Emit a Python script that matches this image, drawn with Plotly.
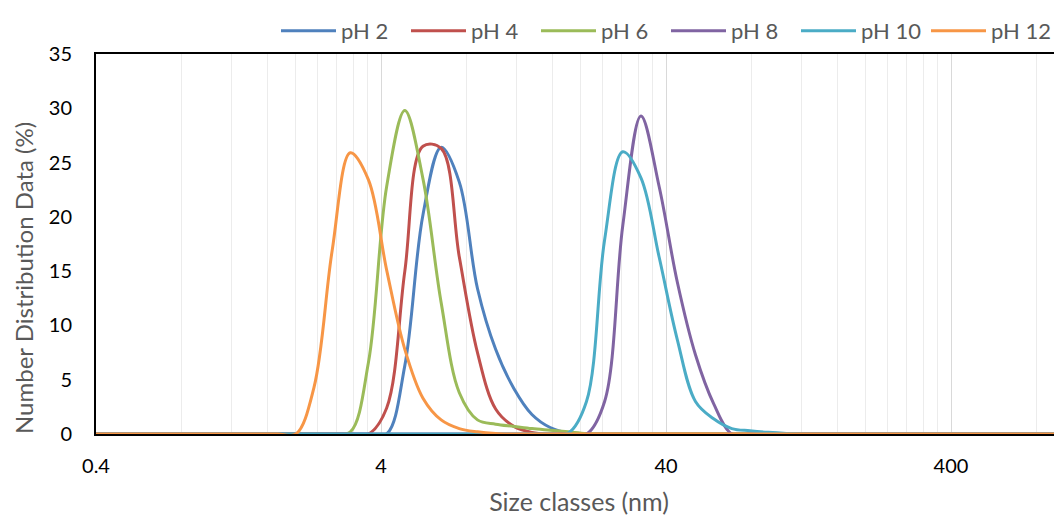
import math
import plotly.graph_objects as go

# Size classes (nm)
size_nm = [0.4, 0.4632, 0.5365, 0.6213, 0.7195, 0.8332, 0.9649, 1.117, 1.294, 1.499,
           1.736, 2.01, 2.328, 2.696, 3.122, 3.615, 4.187, 4.849, 5.615, 6.503,
           7.531, 8.721, 10.1, 11.7, 13.54, 15.69, 18.17, 21.04, 24.36, 28.21,
           32.67, 37.84, 43.82, 50.75, 58.77, 68.06, 78.82, 91.28, 105.7, 122.4,
           141.8, 164.2, 190.1, 220.2, 255.0, 295.3, 342.0, 396.1, 458.7, 531.2,
           615.1, 712.4, 825.0, 955.4, 1106]

ph2 = [0, 0, 0, 0, 0, 0, 0, 0, 0, 0,
       0, 0, 0, 0, 0, 0, 0, 6.3, 20.2, 26.4,
       23.2, 13.4, 7.8, 4.2, 1.8, 0.6, 0.1, 0, 0, 0,
       0, 0, 0, 0, 0, 0, 0, 0, 0, 0,
       0, 0, 0, 0, 0, 0, 0, 0, 0, 0,
       0, 0, 0, 0, 0]
ph4 = [0, 0, 0, 0, 0, 0, 0, 0, 0, 0,
       0, 0, 0, 0, 0, 0, 2.4, 15.0, 26.5, 26.3,
       16.3, 7.5, 2.3, 0.7, 0.15, 0, 0, 0, 0, 0,
       0, 0, 0, 0, 0, 0, 0, 0, 0, 0,
       0, 0, 0, 0, 0, 0, 0, 0, 0, 0,
       0, 0, 0, 0, 0]
ph6 = [0, 0, 0, 0, 0, 0, 0, 0, 0, 0,
       0, 0, 0, 0, 0.2, 6.6, 22.8, 29.8, 23.5, 12.1,
       3.8, 1.3, 0.9, 0.7, 0.5, 0.35, 0.2, 0.05, 0, 0,
       0, 0, 0, 0, 0, 0, 0, 0, 0, 0,
       0, 0, 0, 0, 0, 0, 0, 0, 0, 0,
       0, 0, 0, 0, 0]
ph8 = [0, 0, 0, 0, 0, 0, 0, 0, 0, 0,
       0, 0, 0, 0, 0, 0, 0, 0, 0, 0,
       0, 0, 0, 0, 0, 0, 0, 0, 3.0, 19.2,
       29.3, 22.8, 14.0, 7.3, 2.8, 0, 0, 0, 0, 0,
       0, 0, 0, 0, 0, 0, 0, 0, 0, 0,
       0, 0, 0, 0, 0]
ph10 = [0, 0, 0, 0, 0, 0, 0, 0, 0, 0,
        0, 0, 0, 0, 0, 0, 0, 0, 0, 0,
        0, 0, 0, 0, 0, 0, 0.1, 3.0, 17.9, 26.0,
        23.6, 16.3, 8.7, 3.0, 1.4, 0.5, 0.3, 0.15, 0.05, 0,
        0, 0, 0, 0, 0, 0, 0, 0, 0, 0,
        0, 0, 0, 0, 0]
ph12 = [0, 0, 0, 0, 0, 0, 0, 0, 0, 0,
        0, 0, 4.3, 16.9, 25.9, 23.4, 15.1, 7.8, 3.3, 1.3,
        0.5, 0.2, 0.05, 0, 0, 0, 0, 0, 0, 0,
        0, 0, 0, 0, 0, 0, 0, 0, 0, 0,
        0, 0, 0, 0, 0, 0, 0, 0, 0, 0,
        0, 0, 0, 0, 0]

series_names = ["pH 2", "pH 4", "pH 6", "pH 8", "pH 10", "pH 12"]
series_values = [ph2, ph4, ph6, ph8, ph10, ph12]
series_colors = ["#4F81BD", "#C0504D", "#9BBB59", "#8064A2", "#4BACC6", "#F79646"]

x_major_ticks = [0.4, 4, 40, 400]
x_major_labels = ["0.4", "4", "40", "400"]
minor_mult = [2, 3, 4, 5, 6, 7, 8, 9]
x_minor_ticks = [m * d for d in x_major_ticks for m in minor_mult]

fig = go.Figure()
for name, vals, color in zip(series_names, series_values, series_colors):
    fig.add_trace(go.Scatter(
        x=size_nm, y=vals, name=name, mode="lines",
        line=dict(color=color, width=3, shape="spline", smoothing=1),
    ))

FONT = "Lato"
fig.update_layout(
    width=1054, height=511,
    margin=dict(l=88, r=0, t=46, b=85, pad=0, autoexpand=False),
    paper_bgcolor="white", plot_bgcolor="white",
    font=dict(family=FONT, color="#595959"),
    showlegend=True,
    legend=dict(
        orientation="h", x=(276 - 96) / 966, xanchor="left",
        y=1 + 44 / 380, yanchor="top",
        font=dict(family=FONT, size=22, color="#595959"),
        bgcolor="rgba(0,0,0,0)", traceorder="normal",
        entrywidth=60, entrywidthmode="pixels", itemwidth=55,
    ),
    xaxis=dict(
        type="log",
        range=[math.log10(0.4), math.log10(0.4) + 966 / 285],
        tickmode="array", tickvals=x_major_ticks, ticktext=x_major_labels,
        showgrid=True, gridcolor="#d9d9d9", gridwidth=1,
        minor=dict(tickmode="array", tickvals=x_minor_ticks, showgrid=True,
                   gridcolor="#ececec", gridwidth=1, ticks=""),
        showline=True, linecolor="black", linewidth=2, mirror=True,
        layer="below traces",
        ticks="outside", ticklen=13, tickcolor="rgba(0,0,0,0)",
        tickfont=dict(family=FONT, size=20, color="black"),
        zeroline=False,
        title=dict(text="Size classes (nm)", standoff=17,
                   font=dict(family=FONT, size=25, color="#595959")),
    ),
    yaxis=dict(
        range=[0, 35], tickmode="linear", tick0=0, dtick=5,
        showgrid=False, zeroline=False,
        showline=True, linecolor="black", linewidth=2,
        ticks="outside", ticklen=18, tickcolor="rgba(0,0,0,0)",
        tickfont=dict(family=FONT, size=20, color="black"),
        title=dict(text=""),
    ),
    annotations=[dict(
        text="Number Distribution Data (%)", textangle=-90,
        xref="paper", yref="paper", x=(23 - 96) / 966, y=(434 - 278) / 380,
        xanchor="center", yanchor="middle", showarrow=False,
        font=dict(family=FONT, size=24, color="#595959"),
    )],
)

fig.write_html("out.html")
